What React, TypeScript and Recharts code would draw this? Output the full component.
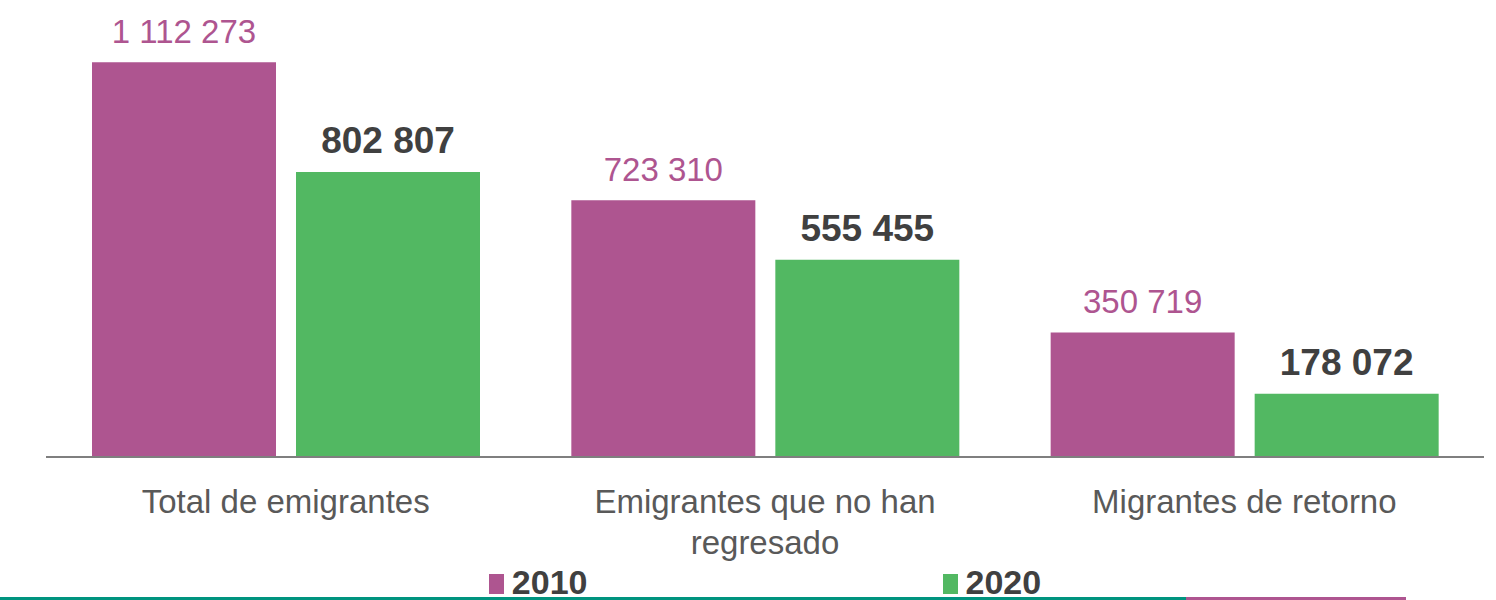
import React from "react";
import { BarChart, Bar, XAxis, YAxis, Legend, LabelList } from "recharts";

const categories = [
  "Total de emigrantes",
  "Emigrantes que no han regresado",
  "Migrantes de retorno",
];
const values2010 = [1112273, 723310, 350719];
const values2020 = [802807, 555455, 178072];

const PURPLE = "#AE5590";
const GREEN = "#52B862";
const FONT = '"Liberation Sans", Arial, sans-serif';

const data = categories.map((name, i) => ({
  name,
  y2010: values2010[i],
  y2020: values2020[i],
}));

const fmt = (v: any) => String(v).replace(/\B(?=(\d{3})+(?!\d))/g, " ");

// greedy word wrap, ~24 characters a line
const wrap = (s: string, max = 24) => {
  const lines: string[] = [];
  let cur = "";
  s.split(" ").forEach((w) => {
    if (cur && (cur + " " + w).length > max) {
      lines.push(cur);
      cur = w;
    } else {
      cur = cur ? cur + " " + w : w;
    }
  });
  if (cur) lines.push(cur);
  return lines;
};

const CategoryTick = ({ x, y, payload }: any) => (
  <text
    x={x}
    y={y + 56}
    textAnchor="middle"
    fontSize={33}
    fill="#595959"
    fontFamily={FONT}
  >
    {wrap(payload.value).map((line, i) => (
      <tspan key={i} x={x} dy={i === 0 ? 0 : 41}>
        {line}
      </tspan>
    ))}
  </text>
);

const renderLegend = (props: any) => {
  const items = props.payload || [];
  return (
    <div
      style={{
        display: "flex",
        justifyContent: "center",
        alignItems: "center",
        height: 36,
        gap: 355,
        fontFamily: FONT,
      }}
    >
      {items.map((it: any) => (
        <div key={it.value} style={{ display: "flex", alignItems: "center" }}>
          <span
            style={{
              display: "inline-block",
              width: 15,
              height: 20,
              background: it.color,
              marginRight: 8,
              marginTop: 4,
            }}
          />
          <span style={{ fontSize: 34, fontWeight: 700, color: "#404040", lineHeight: "36px" }}>
            {it.value}
          </span>
        </div>
      ))}
    </div>
  );
};

export default function App() {
  return (
    <div style={{ position: "absolute", left: 0, top: 0, width: 1496, height: 600, background: "#fff" }}>
      <BarChart
        width={1496}
        height={600}
        data={data}
        margin={{ top: 31, right: 12, left: 46, bottom: 0 }}
        barCategoryGap={46}
        barGap={20}
      >
        <XAxis
          dataKey="name"
          height={107}
          interval={0}
          tickLine={false}
          tickSize={0}
          tickMargin={0}
          axisLine={{ stroke: "#7f7f7f", strokeWidth: 2 }}
          tick={<CategoryTick />}
        />
        <YAxis hide domain={[0, 1200000]} />
        <Legend verticalAlign="bottom" height={36} content={renderLegend} />
        <Bar dataKey="y2010" name="2010" fill={PURPLE} isAnimationActive={false}>
          <LabelList
            dataKey="y2010"
            position="top"
            offset={19}
            formatter={fmt}
            fill={PURPLE}
            fontSize={33}
            fontFamily={FONT}
          />
        </Bar>
        <Bar dataKey="y2020" name="2020" fill={GREEN} isAnimationActive={false}>
          <LabelList
            dataKey="y2020"
            position="top"
            offset={19}
            formatter={fmt}
            fill="#404040"
            fontSize={37}
            fontWeight={700}
            fontFamily={FONT}
          />
        </Bar>
      </BarChart>
      <div style={{ position: "absolute", left: 0, top: 597, width: 1186, height: 3, background: "#00947F" }} />
      <div style={{ position: "absolute", left: 1186, top: 597, width: 220, height: 3, background: PURPLE }} />
    </div>
  );
}
